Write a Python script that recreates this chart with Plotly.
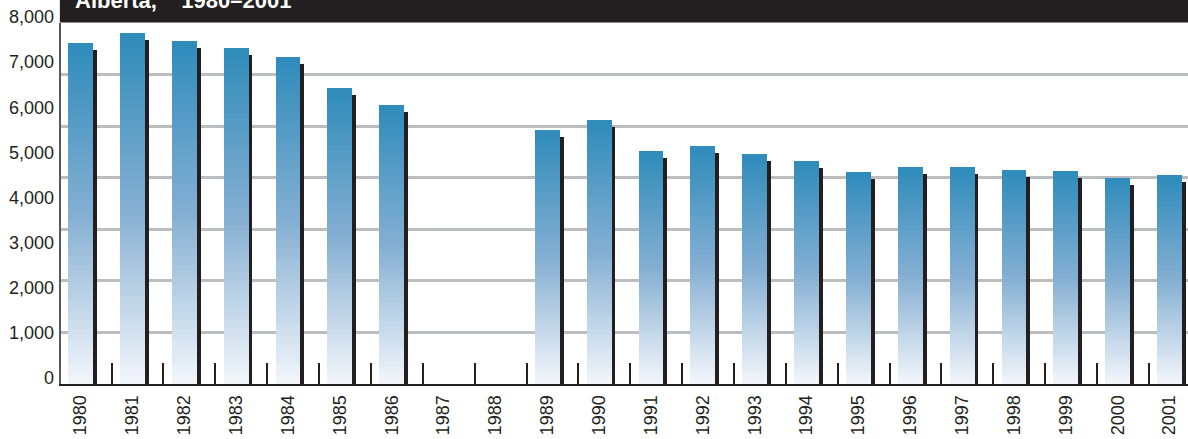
import plotly.graph_objects as go

# Yearly counts, Alberta 1980-2001 (no figures for 1987 and 1988)
years = list(range(1980, 2002))
counts = [7560, 7780, 7600, 7450, 7250, 6560, 6180, None, None, 5630, 5850,
          5160, 5270, 5100, 4940, 4700, 4810, 4810, 4740, 4720, 4570, 4630]
y_tick_values = [0, 1000, 2000, 3000, 4000, 5000, 6000, 7000, 8000]
y_tick_text = ["0", "1,000", "2,000", "3,000", "4,000", "5,000", "6,000", "7,000", "8,000"]
title_text = "Alberta,\u00a0\u00a0\u00a0\u00a01980\u20132001"

INK = "#231f20"
TOP = (46, 139, 187)
MID = (132, 175, 210)
BOTTOM = (243, 246, 251)
N_SLICES = 48
BAR_W = 0.48
SHADOW_DX = 0.075
SHADOW_DROP = 150
SHADOW_BELOW = 110


def mix(a, b, t):
    return tuple(round(a[i] + (b[i] - a[i]) * t) for i in range(3))


def grad_color(t):
    # t = 0 at the bar foot, 1 at the bar top
    if t < 0.5:
        c = mix(BOTTOM, MID, t / 0.5)
    else:
        c = mix(MID, TOP, (t - 0.5) / 0.5)
    return "rgb(%d,%d,%d)" % c


fig = go.Figure()

# empty trace that keeps the gridline axis drawn
fig.add_trace(go.Scatter(
    x=[years[0]], y=[0], mode="markers", marker=dict(opacity=0),
    yaxis="y", hoverinfo="skip", showlegend=False,
))

# dark drop shadow behind each bar
fig.add_trace(go.Bar(
    x=years,
    y=[None if v is None else v - SHADOW_DROP + SHADOW_BELOW for v in counts],
    base=[None if v is None else -SHADOW_BELOW for v in counts],
    width=BAR_W, offset=-BAR_W / 2 + SHADOW_DX,
    marker=dict(color=INK, line=dict(width=0)),
    yaxis="y2", hoverinfo="skip", showlegend=False,
))

# each bar is built from stacked slices to give a vertical white-to-blue fade
for k in range(N_SLICES):
    fig.add_trace(go.Bar(
        x=years,
        y=[None if v is None else v / N_SLICES for v in counts],
        base=[None if v is None else v * k / N_SLICES for v in counts],
        width=BAR_W, offset=-BAR_W / 2,
        marker=dict(color=grad_color((k + 0.5) / N_SLICES), line=dict(width=0)),
        yaxis="y2", hoverinfo="skip", showlegend=False,
    ))

fig.update_layout(
    width=1188, height=439,
    margin=dict(l=61, r=0, t=23, b=55),
    paper_bgcolor="white", plot_bgcolor="white",
    barmode="overlay", bargap=0,
    font=dict(family="Liberation Sans Narrow, Liberation Sans, Arial", color=INK),
    xaxis=dict(
        range=[1979.624, 2001.355],
        tickmode="array", tickvals=years, ticktext=[str(y) for y in years],
        tickangle=-90, ticks="", ticklabelstandoff=2,
        tickfont=dict(size=18, color=INK),
        showgrid=False, zeroline=False,
        showline=True, linecolor=INK, linewidth=2,
        minor=dict(tickmode="array", tickvals=[y + 0.6 for y in years[:-1]],
                   ticks="inside", ticklen=21, tickwidth=2, tickcolor=INK,
                   showgrid=False),
    ),
    yaxis=dict(
        range=[0, 7000], dtick=1000, tick0=0,
        showticklabels=False, ticks="",
        showgrid=True, gridcolor="#bcbdbf", gridwidth=2.5,
        zeroline=False,
        showline=True, linecolor="#58595b", linewidth=2,
    ),
    yaxis2=dict(
        overlaying="y", side="left",
        range=[0, 8000],
        tickmode="array", tickvals=y_tick_values, ticktext=y_tick_text,
        ticks="", ticklabelstandoff=6, ticklabelshift=-6,
        tickfont=dict(size=18, color=INK),
        showgrid=False, zeroline=False, showline=False,
    ),
    shapes=[dict(
        type="rect", xref="paper", yref="paper",
        x0=-0.001, x1=1.01, y0=1.0014, y1=1.2,
        fillcolor=INK, line=dict(width=0), layer="above",
    )],
    annotations=[dict(
        text="<b>" + title_text + "</b>",
        xref="paper", yref="paper", x=0.0107, y=1.0635,
        xanchor="left", yanchor="middle", showarrow=False,
        font=dict(family="Liberation Sans, Arial", size=22, color="white"),
    )],
)

fig.write_html("out.html")
